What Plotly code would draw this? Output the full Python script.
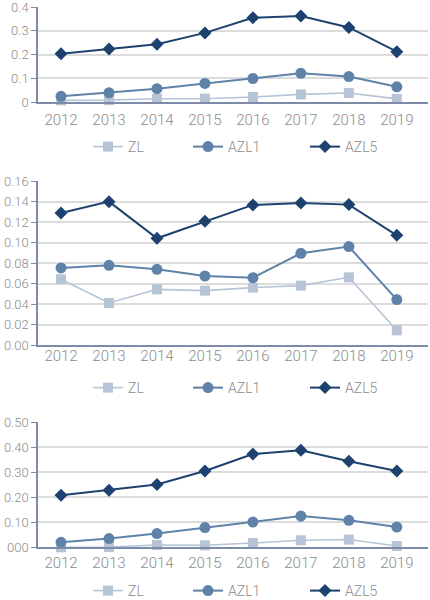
import plotly.graph_objects as go
from plotly.subplots import make_subplots

years = ["2012", "2013", "2014", "2015", "2016", "2017", "2018", "2019"]

# chart 1
zl_1 = [0.007, 0.008, 0.014, 0.014, 0.021, 0.032, 0.038, 0.013]
azl1_1 = [0.024, 0.039, 0.056, 0.078, 0.099, 0.121, 0.107, 0.064]
azl5_1 = [0.203, 0.223, 0.243, 0.291, 0.355, 0.362, 0.314, 0.212]

# chart 2
zl_2 = [0.0643, 0.0412, 0.0545, 0.0532, 0.0562, 0.0581, 0.0662, 0.0146]
azl1_2 = [0.0753, 0.0779, 0.0740, 0.0675, 0.0659, 0.0896, 0.0961, 0.0445]
azl5_2 = [0.1289, 0.1399, 0.1042, 0.1208, 0.1367, 0.1386, 0.1370, 0.1071]

# chart 3
zl_3 = [0.0, 0.001, 0.009, 0.008, 0.017, 0.028, 0.031, 0.005]
azl1_3 = [0.020, 0.035, 0.055, 0.079, 0.101, 0.125, 0.108, 0.081]
azl5_3 = [0.208, 0.228, 0.251, 0.305, 0.373, 0.388, 0.344, 0.305]

ticks_1 = [0, 0.1, 0.2, 0.3, 0.4]
labels_1 = ["0", "0.1", "0.2", "0.3", "0.4"]
ticks_2 = [0, 0.02, 0.04, 0.06, 0.08, 0.10, 0.12, 0.14, 0.16]
labels_2 = ["0.00", "0.02", "0.04", "0.06", "0.08", "0.10", "0.12", "0.14", "0.16"]
ticks_3 = [0, 0.1, 0.2, 0.3, 0.4, 0.5]
labels_3 = ["000", "0.10", "0.20", "0.30", "0.40", "0.50"]

names = ["ZL", "AZL1", "AZL5"]
colors = ["#b7c4d6", "#5f82a8", "#1d4270"]
symbols = ["square", "circle", "diamond"]
msizes = [10, 11, 10]
lwidths = [1.6, 2, 2]
legwidths = [55, 72, 60]

charts = [
    ([zl_1, azl1_1, azl5_1], ticks_1, labels_1, "legend", 3),
    ([zl_2, azl1_2, azl5_2], ticks_2, labels_2, "legend2", -4),
    ([zl_3, azl1_3, azl5_3], ticks_3, labels_3, "legend3", 1),
]

fig = make_subplots(rows=3, cols=1)

grey = "#8c8c8c"
axis_col = "#7d8aa8"
fam = "Roboto, Lato, sans-serif"

for r, (series, tv, tt, leg, standoff) in enumerate(charts, start=1):
    for i, vals in enumerate(series):
        fig.add_trace(go.Scatter(
            x=years, y=vals, name=names[i], mode="lines+markers",
            line=dict(color=colors[i], width=lwidths[i]),
            marker=dict(symbol=symbols[i], size=msizes[i], color=colors[i]),
            legend=leg, legendwidth=legwidths[i], cliponaxis=False
        ), row=r, col=1)
    fig.update_yaxes(range=[0, tv[-1]], tickvals=tv, ticktext=tt,
                     showgrid=True, gridcolor="#dcdcdc", gridwidth=1.5,
                     showline=True, linecolor=axis_col, linewidth=1.5,
                     ticks="outside", ticklen=5, tickcolor=axis_col,
                     tickfont=dict(family=fam, size=13, color=grey, weight=300),
                     ticklabeloverflow="allow", zeroline=False,
                     automargin=False, row=r, col=1)
    fig.update_xaxes(type="category", range=[-0.48, 7.65],
                     showline=True, linecolor=axis_col, linewidth=2,
                     ticks="", showgrid=False, ticklabelstandoff=standoff,
                     tickfont=dict(family=fam, size=15, color=grey, weight=300),
                     automargin=False, row=r, col=1)

# domains
xdom = [38 / 430, 428 / 430]
ydoms = [[1 - 102 / 600, 1 - 7 / 600],
         [1 - 345.3 / 600, 1 - 181 / 600],
         [1 - 547.3 / 600, 1 - 422.3 / 600]]
for r in range(3):
    fig.layout["xaxis" + ("" if r == 0 else str(r + 1))].domain = xdom
    fig.layout["yaxis" + ("" if r == 0 else str(r + 1))].domain = ydoms[r]

leg_style = dict(orientation="h", xanchor="left", yanchor="middle",
                 x=88 / 430, font=dict(family=fam, size=14, color=grey, weight=300),
                 bgcolor="rgba(0,0,0,0)", tracegroupgap=0)
fig.update_layout(
    width=430, height=600,
    margin=dict(l=0, r=0, t=0, b=0, autoexpand=False),
    paper_bgcolor="white", plot_bgcolor="white",
    font=dict(family=fam, color=grey),
    legend=dict(y=1 - 147 / 600, **leg_style),
    legend2=dict(y=1 - 388 / 600, **leg_style),
    legend3=dict(y=1 - 591 / 600, **leg_style),
)

# the page body has a default 8px margin; drop it so the figure sits at 0,0
fig.write_html("out.html", config={"displayModeBar": False},
               post_script="document.body.style.margin='0';")
